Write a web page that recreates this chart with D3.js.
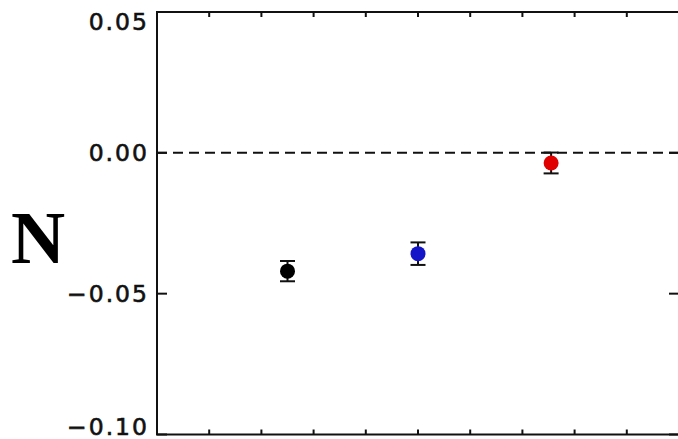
<!DOCTYPE html>
<html>
<head>
<meta charset="utf-8">
<script src="https://cdn.jsdelivr.net/npm/d3@7"></script>
<style>
  html, body { margin: 0; padding: 0; background: #fff; }
  svg { display: block; }
</style>
</head>
<body>
<svg id="chart" width="678" height="439"></svg>
<script>
// Measurements: position on the x axis, value and 1-sigma error
const xPositions = [2.5, 5.0, 7.55];
const values = [-0.042, -0.0358, -0.0036];
const errors = [0.0036, 0.004, 0.0037];
const pointColors = ["#000000", "#1414c8", "#e00000"];

// Axis setup
const xDomain = [0, 10];
const xMinorTicks = [1, 2, 3, 4, 5, 6, 7, 8, 9];
const yDomain = [-0.10, 0.05];
const yTicks = [0.05, 0.00, -0.05, -0.10];
const yTickLabels = ["0.05", "0.00", "\u22120.05", "\u22120.10"];
const yTitle = "N";

const svg = d3.select("#chart");
const plotL = 157, plotR = 679, plotT = 12, plotB = 434.5;

const x = d3.scaleLinear().domain(xDomain).range([plotL, plotR]);
const y = d3.scaleLinear().domain(yDomain).range([plotB, plotT]);

const ink = "#111";

// Frame
svg.append("rect")
  .attr("x", plotL).attr("y", plotT)
  .attr("width", plotR - plotL).attr("height", plotB - plotT)
  .attr("fill", "none").attr("stroke", ink).attr("stroke-width", 2);

// Minor ticks along top and bottom edges, pointing inward
const xt = svg.append("g").attr("stroke", ink).attr("stroke-width", 2);
xMinorTicks.forEach(v => {
  xt.append("line").attr("x1", x(v)).attr("x2", x(v)).attr("y1", plotB).attr("y2", plotB - 5);
  xt.append("line").attr("x1", x(v)).attr("x2", x(v)).attr("y1", plotT).attr("y2", plotT + 5);
});

// Major y ticks on both sides, pointing inward
const yt = svg.append("g").attr("stroke", ink).attr("stroke-width", 2);
yTicks.forEach(v => {
  yt.append("line").attr("x1", plotL).attr("x2", plotL + 10).attr("y1", y(v)).attr("y2", y(v));
  yt.append("line").attr("x1", plotR).attr("x2", plotR - 10).attr("y1", y(v)).attr("y2", y(v));
});

// Y tick labels, kept inside the vertical span of the frame
const labelH = 17;
svg.append("g").selectAll("text")
  .data(yTicks)
  .join("text")
  .attr("x", plotL - 8)
  .attr("y", v => {
    const cy = Math.min(Math.max(y(v), plotT + labelH / 2 + 0.5), plotB - labelH / 2);
    return cy + labelH / 2;
  })
  .attr("text-anchor", "end")
  .attr("font-family", "DejaVu Sans")
  .attr("font-size", 23.5)
  .attr("letter-spacing", 2)
  .attr("fill", ink)
  .attr("stroke", ink)
  .attr("stroke-width", 0.6)
  .text((v, i) => yTickLabels[i]);

// Y title
svg.append("text")
  .attr("x", 11).attr("y", 263)
  .attr("font-family", "Liberation Serif")
  .attr("font-weight", "bold")
  .attr("font-size", 75)
  .attr("fill", "#000")
  .text(yTitle);

// Zero reference line
svg.append("line")
  .attr("x1", plotL).attr("x2", plotR)
  .attr("y1", y(0)).attr("y2", y(0))
  .attr("stroke", ink).attr("stroke-width", 2)
  .attr("stroke-dasharray", "10,6");

// Error bars
const capHalf = 7.5;
const eb = svg.append("g").attr("stroke", ink).attr("stroke-width", 2);
xPositions.forEach((xv, i) => {
  const cx = x(xv);
  const y0 = y(values[i] - errors[i]), y1 = y(values[i] + errors[i]);
  eb.append("line").attr("x1", cx).attr("x2", cx).attr("y1", y0).attr("y2", y1);
  eb.append("line").attr("x1", cx - capHalf).attr("x2", cx + capHalf).attr("y1", y0).attr("y2", y0);
  eb.append("line").attr("x1", cx - capHalf).attr("x2", cx + capHalf).attr("y1", y1).attr("y2", y1);
});

// Points
svg.append("g").selectAll("circle")
  .data(xPositions)
  .join("circle")
  .attr("cx", d => x(d))
  .attr("cy", (d, i) => y(values[i]))
  .attr("r", 7.5)
  .attr("fill", (d, i) => pointColors[i]);
</script>
</body>
</html>
